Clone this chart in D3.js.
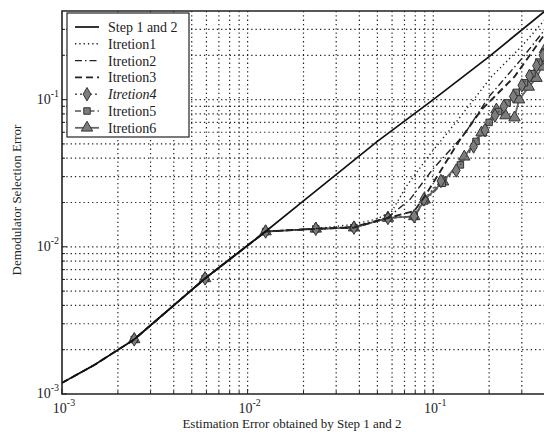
<!DOCTYPE html>
<html>
<head>
<meta charset="utf-8">
<script src="https://cdn.jsdelivr.net/npm/d3@7/dist/d3.min.js"></script>
<style>
  html, body { margin: 0; padding: 0; background: #fff; }
  svg { display: block; }
  text { font-family: "Liberation Serif", "DejaVu Serif", serif; fill: #222; }
</style>
</head>
<body>
<svg id="chart" width="544" height="434"></svg>
<script>
// Axis decades and minor ticks (log scale, both axes)
const majorTicks = [0.001, 0.01, 0.1];
const majorExp = [-3, -2, -1];
const minorTicks = [0.002,0.003,0.004,0.005,0.006,0.007,0.008,0.009,
                    0.02,0.03,0.04,0.05,0.06,0.07,0.08,0.09,
                    0.2,0.3];

// Step 1 and 2
const stepX = [0.001, 0.0015, 0.00245, 0.0059, 0.0125, 0.02, 0.05, 0.1, 0.2, 0.4];
const stepY = [0.00119, 0.00158, 0.00235, 0.0061, 0.0127, 0.0205, 0.052, 0.1, 0.196, 0.4];

// Iteration 1..3 (lines only)
const iter1X = [0.001, 0.0015, 0.00245, 0.0059, 0.0125, 0.0233, 0.0374, 0.05, 0.06, 0.0714, 0.0975, 0.136, 0.206, 0.299, 0.4];
const iter1Y = [0.00119, 0.00158, 0.00235, 0.0061, 0.0127, 0.0133, 0.0142, 0.0155, 0.0175, 0.0256, 0.0436, 0.0731, 0.143, 0.23, 0.35];
const iter2X = [0.001, 0.0015, 0.00245, 0.0059, 0.0125, 0.0233, 0.0374, 0.057, 0.075, 0.1, 0.147, 0.2, 0.3, 0.4];
const iter2Y = [0.00119, 0.00158, 0.00235, 0.0061, 0.0127, 0.0133, 0.0137, 0.0158, 0.021, 0.034, 0.058, 0.105, 0.19, 0.3];
const iter3X = [0.001, 0.0015, 0.00245, 0.0059, 0.0125, 0.0233, 0.0374, 0.057, 0.079, 0.09, 0.136, 0.182, 0.274, 0.37, 0.4];
const iter3Y = [0.00119, 0.00158, 0.00235, 0.0061, 0.0127, 0.01325, 0.0135, 0.0157, 0.0175, 0.022, 0.051, 0.0855, 0.143, 0.244, 0.28];

// Iteration 4..6 (lines with markers)
const iter4X = [0.00245, 0.0059, 0.0125, 0.0233, 0.0374, 0.057, 0.079, 0.089, 0.11, 0.133, 0.165, 0.19, 0.215, 0.24, 0.27, 0.3, 0.33, 0.36, 0.39];
const iter4Y = [0.00235, 0.0061, 0.0127, 0.01325, 0.0135, 0.0157, 0.0161, 0.021, 0.028, 0.033, 0.048, 0.062, 0.078, 0.09, 0.105, 0.125, 0.145, 0.17, 0.2];
const iter5X = [0.00245, 0.0059, 0.0125, 0.0233, 0.0374, 0.057, 0.079, 0.09, 0.112, 0.14, 0.17, 0.2, 0.225, 0.25, 0.28, 0.31, 0.34, 0.37, 0.4];
const iter5Y = [0.00235, 0.0061, 0.0127, 0.01325, 0.0135, 0.0157, 0.0161, 0.0205, 0.027, 0.036, 0.052, 0.07, 0.083, 0.095, 0.112, 0.13, 0.15, 0.18, 0.21];
const iter6X = [0.00245, 0.0059, 0.0125, 0.0233, 0.0374, 0.057, 0.079, 0.09, 0.113, 0.147, 0.182, 0.219, 0.245, 0.274, 0.29, 0.327, 0.36, 0.384, 0.4];
const iter6Y = [0.00235, 0.0061, 0.0127, 0.01325, 0.0135, 0.0157, 0.0161, 0.0209, 0.0277, 0.0409, 0.0597, 0.0855, 0.078, 0.0755, 0.1, 0.122, 0.14, 0.167, 0.22];

const legendLabels = ["Step 1 and 2", "Itretion1", "Itretion2", "Itretion3", "Itretion4", "Itretion5", "Itretion6"];

const svg = d3.select("#chart");
const pLeft = 62, pRight = 545, pTop = 11, pBottom = 394;

const x = d3.scaleLog().domain([0.001, 0.4]).range([pLeft, pRight]);
const y = d3.scaleLog().domain([0.001, 0.4]).range([pBottom, pTop]);

// grid
const grid = svg.append("g").attr("stroke", "#222").attr("stroke-width", 1.2)
  .attr("stroke-dasharray", "1.3,3");
majorTicks.concat(minorTicks).forEach(t => {
  if (t > 0.001) {
    grid.append("line").attr("x1", x(t)).attr("x2", x(t)).attr("y1", pTop).attr("y2", pBottom);
    grid.append("line").attr("y1", y(t)).attr("y2", y(t)).attr("x1", pLeft).attr("x2", pRight);
  }
});

// series
svg.append("clipPath").attr("id", "plot")
  .append("rect").attr("x", pLeft).attr("y", pTop).attr("width", pRight - pLeft).attr("height", pBottom - pTop);
const plot = svg.append("g").attr("clip-path", "url(#plot)");
const line = d3.line().x(d => x(d[0])).y(d => y(d[1]));
const zip = (a, b) => a.map((v, i) => [v, b[i]]);

const series = [
  {xs: stepX, ys: stepY, dash: null, w: 1.7, color: "#111", marker: null},
  {xs: iter1X, ys: iter1Y, dash: "1.3,3", w: 1.4, color: "#222", marker: null},
  {xs: iter2X, ys: iter2Y, dash: "7,3,1.5,3", w: 1.4, color: "#222", marker: null},
  {xs: iter3X, ys: iter3Y, dash: "7,4", w: 1.9, color: "#222", marker: null},
  {xs: iter4X, ys: iter4Y, dash: "2,3", w: 1.6, color: "#555", marker: "diamond"},
  {xs: iter5X, ys: iter5Y, dash: "6,3,1.5,3", w: 1.6, color: "#555", marker: "square"},
  {xs: iter6X, ys: iter6Y, dash: null, w: 1.8, color: "#666", marker: "triangle"}
];

const symbolOf = {
  diamond: d3.symbol().type(d3.symbolDiamond).size(52),
  square: d3.symbol().type(d3.symbolSquare).size(42),
  triangle: d3.symbol().type(d3.symbolTriangle).size(56)
};

series.slice().reverse().forEach(s => {
  plot.append("path").datum(zip(s.xs, s.ys)).attr("d", line)
    .attr("fill", "none").attr("stroke", s.color).attr("stroke-width", s.w)
    .attr("stroke-dasharray", s.dash);
  if (s.marker) {
    plot.selectAll(null).data(zip(s.xs, s.ys)).enter().append("path")
      .attr("d", symbolOf[s.marker])
      .attr("transform", d => `translate(${x(d[0])},${y(d[1])})`)
      .attr("fill", "#7d7d7d").attr("stroke", "#333").attr("stroke-width", 1);
  }
});

// frame
svg.append("path")
  .attr("d", `M${pRight},${pTop}H${pLeft}V${pBottom}H${pRight}`)
  .attr("fill", "none").attr("stroke", "#222").attr("stroke-width", 1.6);

// inward ticks
const tk = svg.append("g").attr("stroke", "#222").attr("stroke-width", 1);
majorTicks.concat(minorTicks).forEach(t => {
  const len = majorTicks.includes(t) ? 5 : 3;
  tk.append("line").attr("x1", x(t)).attr("x2", x(t)).attr("y1", pBottom).attr("y2", pBottom - len);
  tk.append("line").attr("y1", y(t)).attr("y2", y(t)).attr("x1", pLeft).attr("x2", pLeft + len);
});

// tick labels
function powLabel(g, px, py, e, anchor) {
  const t = g.append("text").attr("x", px).attr("y", py).attr("text-anchor", anchor)
    .attr("font-size", 14);
  t.append("tspan").text("10");
  t.append("tspan").attr("dy", -7).attr("font-size", 10).text("-" + Math.abs(e));
}
majorTicks.forEach((t, i) => {
  powLabel(svg, x(t) + 2, pBottom + 19, majorExp[i], "middle");
  powLabel(svg, pLeft - 3, y(t) + 4, majorExp[i], "end");
});

// axis titles
svg.append("text").attr("x", 292).attr("y", 428).attr("text-anchor", "middle")
  .attr("font-size", 13).text("Estimation Error obtained by Step 1 and 2");
svg.append("text").attr("transform", "translate(21,200) rotate(-90)")
  .attr("text-anchor", "middle").attr("font-size", 13).text("Demodulator Selection Error");

// legend
const lg = svg.append("g");
lg.append("rect").attr("x", 67).attr("y", 13).attr("width", 122).attr("height", 124)
  .attr("fill", "#fff").attr("stroke", "#222").attr("stroke-width", 1.2);
series.forEach((s, i) => {
  const yy = 27 + i * 16.8;
  lg.append("line").attr("x1", 75).attr("x2", 99).attr("y1", yy).attr("y2", yy)
    .attr("stroke", s.color).attr("stroke-width", s.w).attr("stroke-dasharray", s.dash);
  if (s.marker) {
    lg.append("path").attr("d", symbolOf[s.marker]).attr("transform", `translate(87,${yy})`)
      .attr("fill", "#7d7d7d").attr("stroke", "#333").attr("stroke-width", 1);
  }
  lg.append("text").attr("x", 108).attr("y", yy + 5).attr("font-size", 14)
    .attr("font-style", i === 4 ? "italic" : "normal").text(legendLabels[i]);
});
</script>
</body>
</html>
